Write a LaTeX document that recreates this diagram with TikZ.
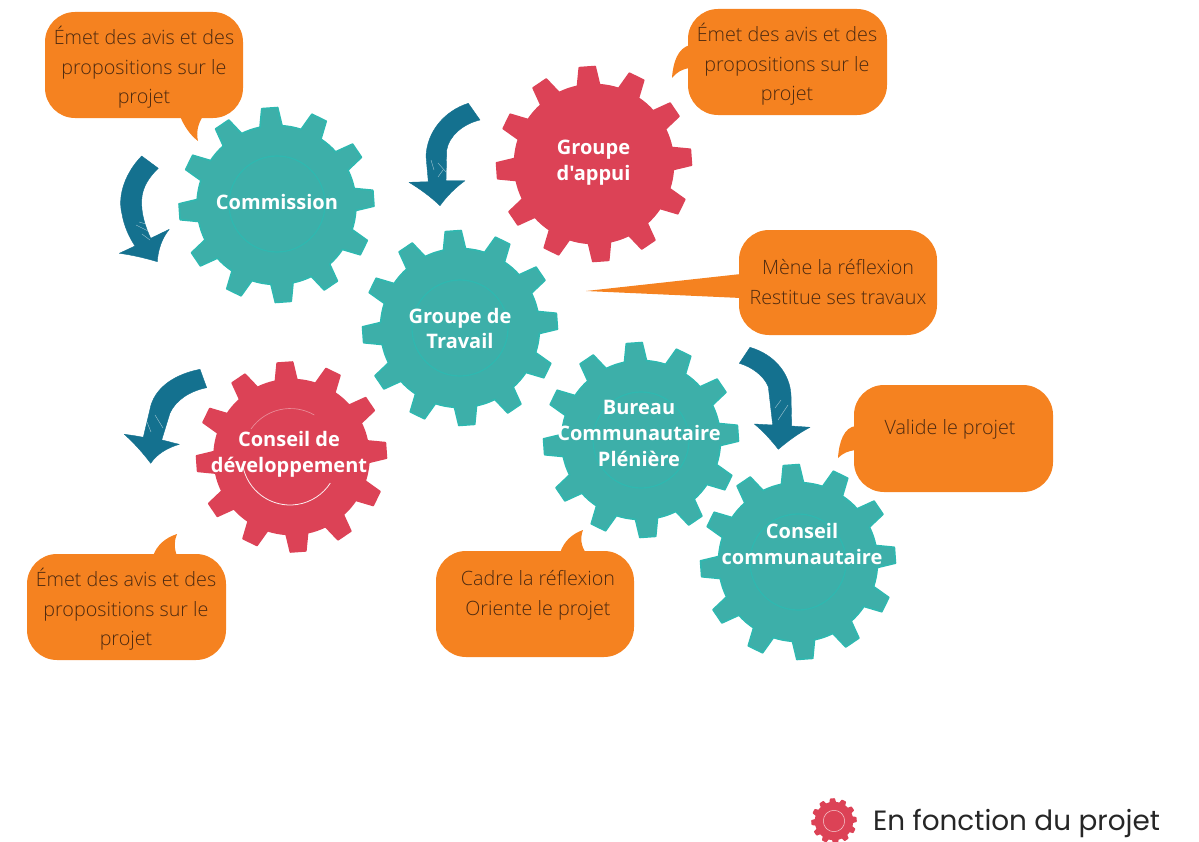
\documentclass[tikz,border=0pt]{standalone}
\usepackage{fontspec}
\setmainfont{Open Sans}
\newfontfamily\labelfont{Open Sans}
\newfontfamily\lightfont{Open Sans Light}
\newfontfamily\legendfont{Poppins}
\definecolor{teal1}{HTML}{3DAFA9}
\definecolor{teal2}{HTML}{2FB8B0}
\definecolor{red1}{HTML}{DC4256}
\definecolor{orange1}{HTML}{F58220}
\definecolor{blue1}{HTML}{14718F}
\definecolor{txtbrown}{HTML}{4E2A10}
\newcommand{\gearshape}[6]{% cx cy Ro Rb fill border
  \begin{scope}[shift={(#1,#2)},yscale=-1]
  \filldraw[fill=#5,draw=#6,line width=1.2pt,line join=round]
    (94-8:#4)
    \foreach \i [evaluate=\i as \a using 94+30*\i] in {0,...,11}{
      -- ({\a-4.7}:#3) -- ({\a+4.7}:#3) -- ({\a+8}:#4)
      arc[start angle=\a+8,end angle=\a+22,radius=#4]
    } -- cycle;
  \end{scope}}
\tikzset{
  bubble/.style={fill=orange1,draw=none},
  bluearrow/.style={fill=blue1,draw=blue1,line width=0.3pt,line join=round},
  scratch/.style={draw=white,line width=0.3pt,opacity=0.6},
  gearlabel/.style={text=white,align=center,font=\labelfont\fontsize{15}{19.3}\selectfont\bfseries,inner sep=0pt},
  bubbletext/.style={text=txtbrown,align=center,font=\lightfont\fontsize{14.8}{22.2}\selectfont,inner sep=0pt},
}
\newcommand{\bubblebox}[4]{\fill[bubble,rounded corners=22.5pt] (#1,#2) rectangle (#3,#4);}
\begin{document}
\begin{tikzpicture}[x=0.75pt,y=-0.75pt]
\useasboundingbox (0,0) rectangle (1199,842);
% callouts
\bubblebox{45}{12}{243}{118}
\fill[bubble] (180,116) .. controls (184,126) and (190,135) .. (198,141) .. controls (196,132) and (198,124) .. (203,116) -- cycle;
\bubblebox{688}{9}{887}{115}
\fill[bubble] (690,45) .. controls (678,48) and (673,62) .. (672,78) .. controls (677,72) and (682,69) .. (690,68) -- cycle;
\bubblebox{739}{230}{937}{335}
\fill[bubble] (741,274) -- (586,291) -- (741,298) -- cycle;
\bubblebox{854}{385}{1053}{492}
\fill[bubble] (856,426) .. controls (844,427) and (839,442) .. (838,458) .. controls (843,453) and (848,451) .. (856,450) -- cycle;
\bubblebox{436}{551}{634}{657}
\fill[bubble] (560,553) .. controls (564,541) and (572,534) .. (583,530) .. controls (580,538) and (581,546) .. (586,553) -- cycle;
\bubblebox{27}{554}{226}{660}
\fill[bubble] (153,556) .. controls (157,545) and (165,538) .. (177,534) .. controls (174,541) and (174,548) .. (177,556) -- cycle;
% gears
\gearshape{276.5}{205}{97.5}{79.5}{teal1}{teal2}
\draw[teal2,line width=0.9pt] (277,204) circle[radius=48];
\gearshape{594}{164}{97.5}{79.5}{red1}{red1}
\gearshape{460}{328}{97.5}{79.5}{teal1}{teal2}
\draw[teal2,line width=0.9pt] (460,328) circle[radius=48];
\gearshape{641}{440}{97.5}{79.5}{teal1}{teal2}
\draw[teal2,line width=0.9pt] (641,440) circle[radius=48];
\gearshape{291.5}{457}{95}{77.5}{red1}{red1}
\draw[white,line width=0.5pt,opacity=0.4] (251,429) arc[start angle=145,end angle=60,radius=48,y radius=-48];
\draw[white,line width=0.6pt,opacity=0.9] (242.6,464.5) arc[start angle=189,end angle=327,radius=48,y radius=-48];
\gearshape{798}{562}{97.5}{79.5}{teal1}{teal2}
\draw[teal2,line width=0.9pt] (798,562) circle[radius=48];
\gearshape{834}{821}{22}{18.5}{red1}{red1}
\draw[white,line width=0.4pt,opacity=0.7] (834,821) circle[radius=10.7];
% arrows
\filldraw[bluearrow] (141.7,156) .. controls (126,172) and (117,195) .. (122,214) .. controls (124,226) and (129,237) .. (135,246) -- (119.3,253.3) .. controls (132,255) and (145,258) .. (157.3,261.7) .. controls (158,250) and (162,238) .. (169.3,229.3) -- (150.7,238.3) .. controls (145,226) and (141,213) .. (141.7,200) .. controls (142,188) and (149,177) .. (158.3,168.3) -- cycle;
\filldraw[bluearrow] (468.3,103.3) .. controls (444,111) and (427,132) .. (426,156) -- (428.3,181.7) -- (409,182.3) .. controls (420,189) and (431,197) .. (440,205.7) .. controls (447,196) and (455,188) .. (465,180.7) -- (446,180.7) -- (446.7,150) .. controls (449,136) and (463,124) .. (480,120) -- cycle;
\filldraw[bluearrow] (200,369.3) .. controls (176,374) and (157,386) .. (151,405) -- (143.3,437.3) .. controls (137,436) and (130,435) .. (124.3,434.3) .. controls (134,443) and (143,453) .. (150.7,463.3) .. controls (157,454) and (167,448) .. (179.3,444.3) .. controls (173,443) and (167,441) .. (161.7,440) -- (170,413) .. controls (176,400) and (190,391) .. (206.7,387.7) -- cycle;
\filldraw[bluearrow] (750,347.3) .. controls (776,355) and (790,375) .. (791,395) -- (791.7,426) -- (810,427.3) .. controls (799,433) and (788,441) .. (778.3,449.3) .. controls (771,440) and (763,431) .. (754.3,424) -- (772.7,425) -- (768.3,386.7) .. controls (764,376) and (752,367) .. (739.3,363.3) -- cycle;
% scratches
\draw[scratch] (136,225) -- (148,231) (139,222) -- (146,224) (142,234) -- (150,240);
\draw[scratch] (438,163) -- (446,172) (431,160) -- (434,170) (438,177) -- (443,170);
\draw[scratch] (155,415) -- (163,428) (147,422) -- (151,432);
\draw[scratch] (775,408) -- (781,400) (778,420) -- (788,405);
% gear labels
\node[gearlabel] (commission) at (277,202) {Commission};
\node[gearlabel] (appui) at (593.5,162.5) {Groupe\\d'appui};
\node[gearlabel] (travail) at (460,328.5) {Groupe de\\Travail};
\node[gearlabel] (bureau) at (639,433.5) {Bureau\\Communautaire\\Plénière};
\node[gearlabel] (dev) at (289,454) {Conseil de\\développement};
\node[gearlabel] (comm) at (802,544) {Conseil\\communautaire};
% callout labels
\node[bubbletext] (t1) at (144,67.5) {Émet des avis et des\\propositions sur le\\projet};
\node[bubbletext] (t2) at (787,64.5) {Émet des avis et des\\propositions sur le\\projet};
\node[bubbletext] (t3) at (838,282) {Mène la réflexion\\Restitue ses travaux};
\node[bubbletext] (t4) at (950,429) {Valide le projet};
\node[bubbletext] (t5) at (538,595.5) {Cadre la réflexion\\Oriente le projet};
\node[bubbletext] (t6) at (126,609.5) {Émet des avis et des\\propositions sur le\\projet};
\node[text=black!85,font=\legendfont\fontsize{20.9}{26}\selectfont,inner sep=0pt] (legend) at (1016.5,823) {En fonction du projet};
\end{tikzpicture}
\end{document}
